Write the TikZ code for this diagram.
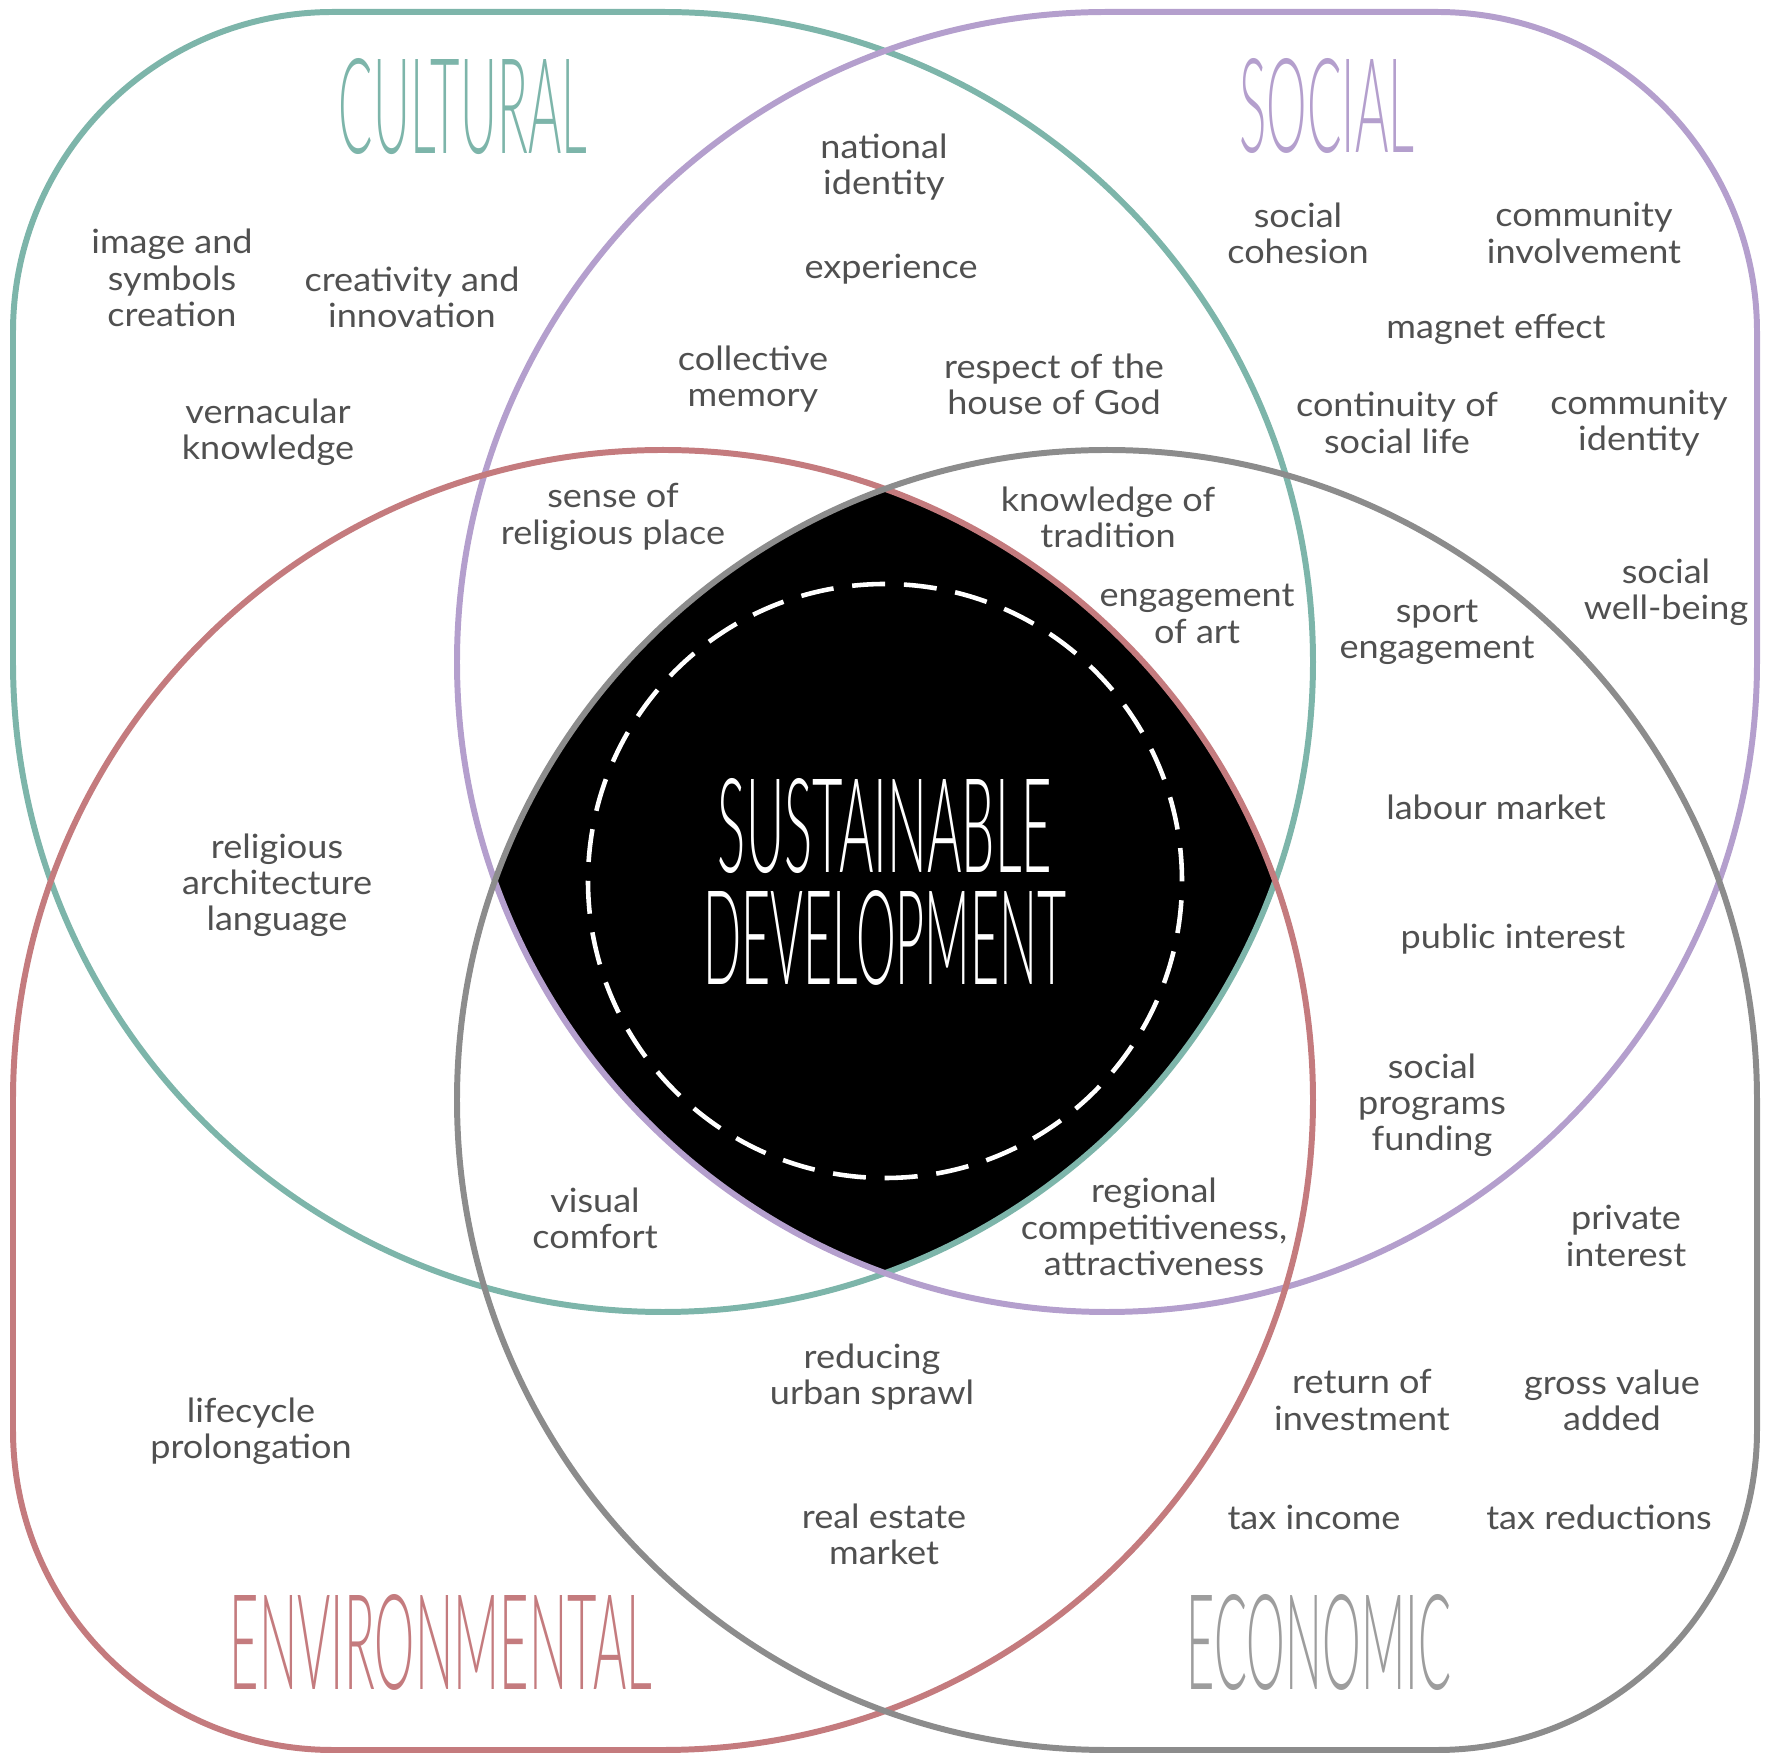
\documentclass[tikz,border=0pt]{standalone}
\usepackage{fontspec}
\setmainfont{Lato}[FakeStretch=1.08]
\newfontfamily\headfont{Lato Light}
\usepackage{graphicx}
\definecolor{cultcol}{HTML}{7DB5AA}
\definecolor{soccol}{HTML}{B49FCD}
\definecolor{envcol}{HTML}{C47B7E}
\definecolor{ecocol}{HTML}{8C8C8C}
\definecolor{itemcol}{HTML}{505050}
\tikzset{
  item/.style={align=center,text=itemcol,inner sep=0pt,font=\fontsize{9.5}{10.3}\selectfont},
  realm/.style={line width=1.7pt},
  heading/.style={inner sep=0pt,font=\headfont}
}
\newcommand\squeezed[3]{\resizebox{#1}{#2}{#3}}

\begin{document}
\begin{tikzpicture}[x=0.01cm,y=0.01cm]
\useasboundingbox (0,0) rectangle (1772,1763);
% common core
\begin{scope}
  \clip (663,1101) circle[radius=650];
  \clip (1107,1101) circle[radius=650];
  \clip (663,663) circle[radius=650];
  \fill[black] (1107,663) circle[radius=650];
\end{scope}
\draw[white,line width=1.3pt,dash pattern=on 0.33cm off 0.188cm] (885,882) circle[radius=297];
\node[heading,white,align=center] (core) at (885,881)
  {\squeezed{3.34cm}{0.94cm}{SUSTAINABLE}\\[3.8pt]\squeezed{3.63cm}{0.94cm}{DEVELOPMENT}};

% the four realms
\draw[realm,cultcol] (663,1751) -- (333,1751) arc[start angle=90,end angle=180,radius=320]
  -- (13,1101) arc[start angle=180,end angle=450,radius=650] -- cycle;
\draw[realm,soccol] (1107,1751) -- (1437,1751) arc[start angle=90,end angle=0,radius=320]
  -- (1757,1101) arc[start angle=0,end angle=-270,radius=650] -- cycle;
\draw[realm,envcol] (663,13) -- (333,13) arc[start angle=270,end angle=180,radius=320]
  -- (13,663) arc[start angle=180,end angle=-90,radius=650] -- cycle;
\draw[realm,ecocol] (1107,13) -- (1437,13) arc[start angle=270,end angle=360,radius=320]
  -- (1757,663) arc[start angle=0,end angle=270,radius=650] -- cycle;

% headings
\node[heading,cultcol] (cultural) at (463,1656) {\squeezed{2.48cm}{0.95cm}{CULTURAL}};
\node[heading,soccol] (social) at (1327,1657) {\squeezed{1.75cm}{0.94cm}{SOCIAL}};
\node[heading,envcol] (environmental) at (441,121) {\squeezed{4.22cm}{0.95cm}{ENVIRONMENTAL}};
\node[heading,ecocol!85!white] (economic) at (1319,121) {\squeezed{2.64cm}{0.95cm}{ECONOMIC}};

% items
\node[item] (imagesym) at (172,1485) {image and\\symbols\\creation};
\node[item] (creativity) at (412,1466) {creativity and\\innovation};
\node[item] (vernacular) at (268,1331) {vernacular\\knowledge};
\node[item] (national) at (884,1596) {national\\identity};
\node[item] (experience) at (891,1494) {experience};
\node[item] (memory) at (753,1384) {collective\\memory};
\node[item] (respect) at (1054,1379) {respect of the\\house of God};
\node[item] (cohesion) at (1298,1530) {social\\cohesion};
\node[item] (involvement) at (1584,1530) {community\\involvement};
\node[item] (magnet) at (1496,1434) {magnet effect};
\node[item] (continuity) at (1397,1340) {continuity of\\social life};
\node[item] (commident) at (1639,1340) {community\\identity};
\node[item] (sense) at (613,1246) {sense of\\religious place};
\node[item] (tradition) at (1108,1246) {knowledge of\\tradition};
\node[item] (art) at (1197,1149) {engagement\\of art};
\node[item] (sport) at (1437,1131) {sport\\engagement};
\node[item] (wellbeing) at (1666,1171) {social\\well-being};
\node[item] (labour) at (1496,956) {labour market};
\node[item] (language) at (277,878) {religious\\architecture\\language};
\node[item] (public) at (1513,824) {public interest};
\node[item] (programs) at (1432,658) {social\\programs\\funding};
\node[item] (private) at (1626,527) {private\\interest};
\node[item] (visual) at (595,545) {visual\\comfort};
\node[item] (regional) at (1154,536) {regional\\competitiveness,\\attractiveness};
\node[item] (sprawl) at (872,386) {reducing\\urban sprawl};
\node[item] (lifecycle) at (251,332) {lifecycle\\prolongation};
\node[item] (return) at (1362,363) {return of\\investment};
\node[item] (gross) at (1612,363) {gross value\\added};
\node[item] (taxinc) at (1314,246) {tax income};
\node[item] (taxred) at (1599,246) {tax reductions};
\node[item] (estate) at (884,229) {real estate\\market};
\end{tikzpicture}
\end{document}
